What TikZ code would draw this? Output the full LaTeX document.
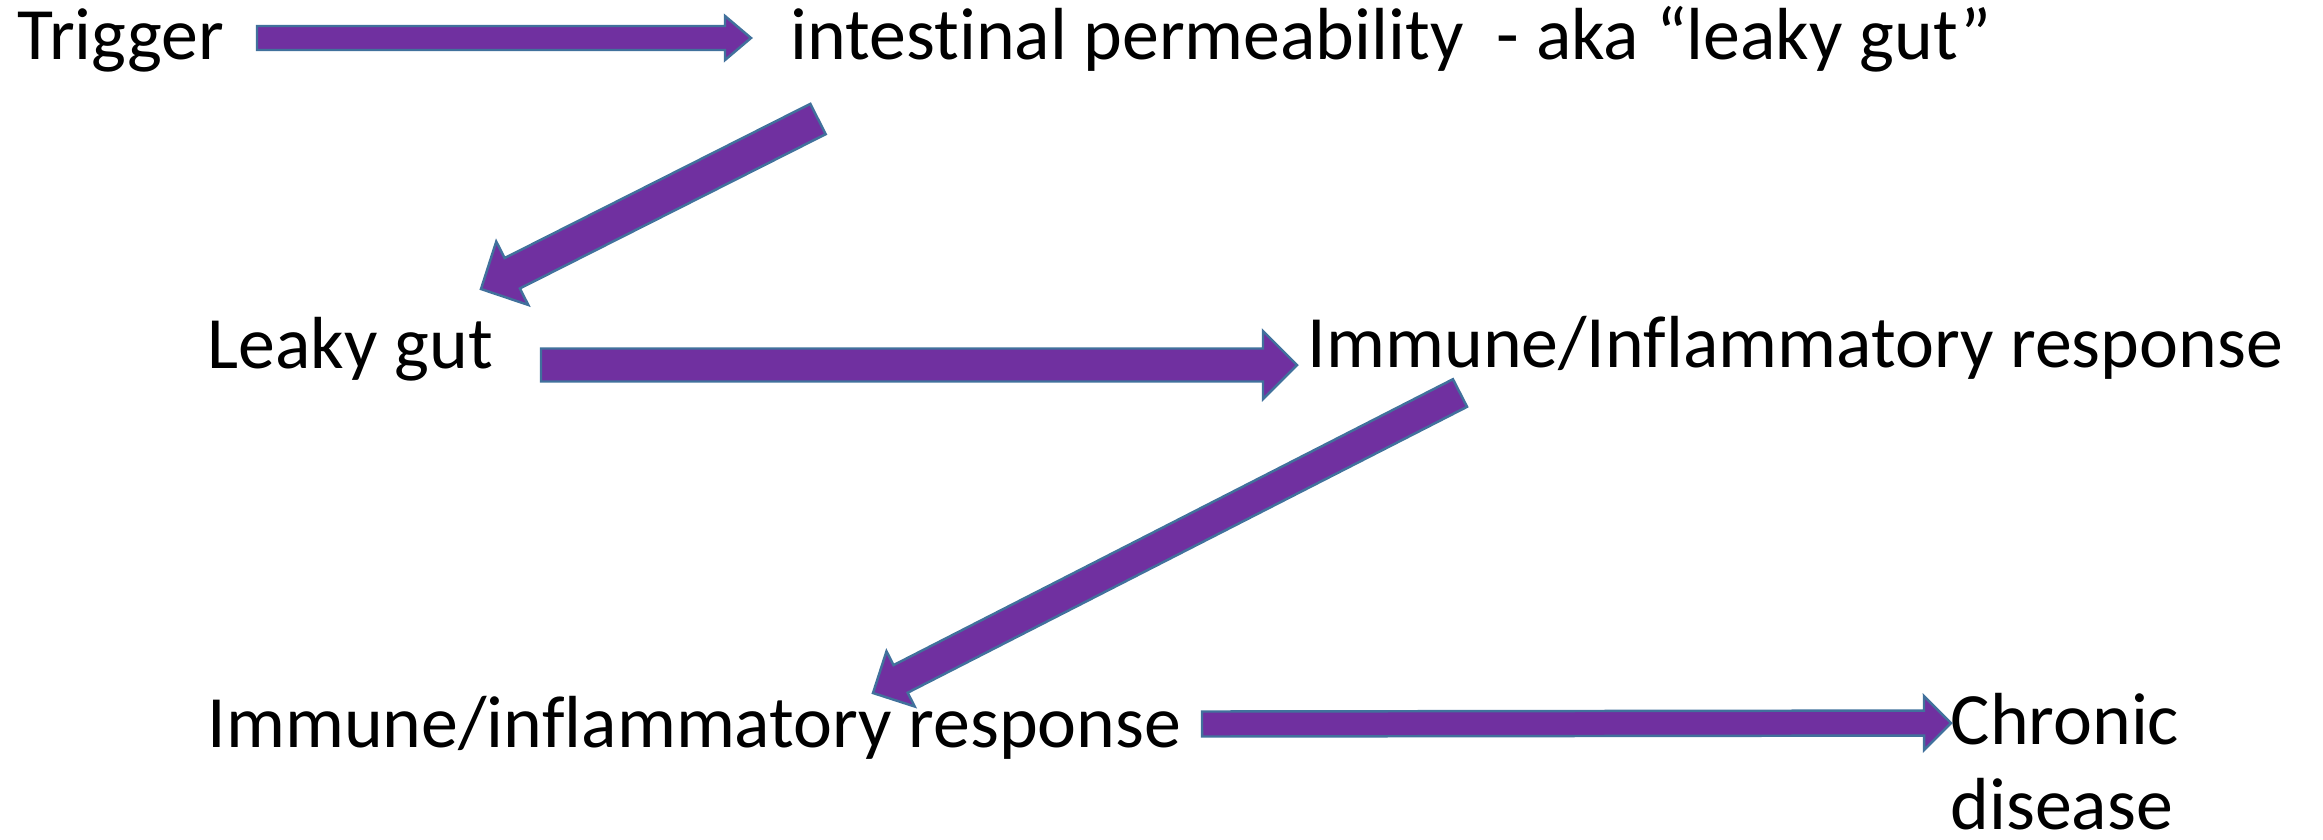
\documentclass[tikz,border=0pt]{standalone}
\usepackage{fontspec}
\setmainfont{Carlito}[Ligatures={TeX,NoCommon}]
\usepackage{tikz}
\usetikzlibrary{calc}
\definecolor{arrfill}{RGB}{112,48,160}
\definecolor{arrline}{RGB}{65,113,156}
% block arrow: start, end, half shaft, half head, head length
\newcommand{\blockarrow}[5]{%
  \coordinate (ba-s) at #1;
  \coordinate (ba-e) at #2;
  \coordinate (ba-h) at ($(ba-e)!#5!(ba-s)$);
  \draw[blockarr] ($(ba-s)!#3!90:(ba-e)$) -- ($(ba-h)!#3!90:(ba-e)$)
    -- ($(ba-h)!#4!90:(ba-e)$) -- (ba-e) -- ($(ba-h)!#4!-90:(ba-e)$)
    -- ($(ba-h)!#3!-90:(ba-e)$) -- ($(ba-s)!#3!-90:(ba-e)$) -- cycle;}

\begin{document}
\begin{tikzpicture}[
      stage/.style={inner sep=0pt, anchor=base west,
        font=\fontsize{21}{24}\selectfont},
      blockarr/.style={draw=arrline, fill=arrfill, line width=0.7pt,
        line join=miter},
    ]
    \useasboundingbox (0,0) rectangle (23.23,-8.39);
    % First row
    \node[stage] (trigger) at (0.17,-0.59) {Trigger};
    \node[stage] (perm) at (7.90,-0.59)
      {intestinal permeability\ \ - aka “leaky gut”};
    % Second row
    \node[stage] (leaky) at (2.07,-3.68) {Leaky gut};
    \node[stage] (immA) at (13.07,-3.67) {Immune/Inflammatory response};
    % Third row
    \node[stage] (immB) at (2.07,-7.47) {Immune/inflammatory response};
    \node[stage, align=left] (chronic) at (19.50,-8.29)
      {Chronic\\disease};

    % Arrows
    \blockarrow{($(trigger.base west)+(2.40,0.21)$)}
      {($(perm.base west)+(-0.39,0.21)$)}{0.12cm}{0.22cm}{0.26cm}
    \blockarrow{($(perm.base west)+(0.28,-0.60)$)}
      {($(leaky.base west)+(2.74,0.79)$)}{0.17cm}{0.355cm}{0.35cm}
    \blockarrow{($(leaky.base west)+(3.34,0.03)$)}
      {($(immA.base west)+(-0.10,0.02)$)}{0.165cm}{0.34cm}{0.34cm}
    \blockarrow{($(immA.base west)+(1.53,-0.26)$)}
      {($(immB.base west)+(6.66,0.54)$)}{0.155cm}{0.31cm}{0.31cm}
    \blockarrow{($(immB.base west)+(9.95,0.23)$)}
      {($(chronic.base west)+(0.01,1.06)$)}{0.125cm}{0.27cm}{0.27cm}
  \end{tikzpicture}
\end{document}
